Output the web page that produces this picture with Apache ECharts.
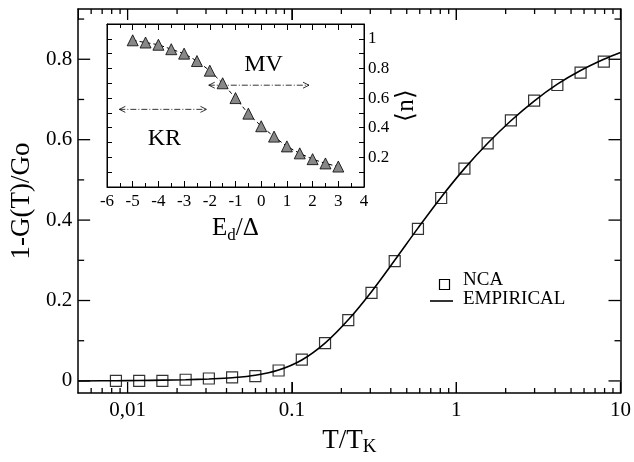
<!DOCTYPE html>
<html>
<head>
<meta charset="utf-8">
<script src="https://cdn.jsdelivr.net/npm/echarts@6/dist/echarts.min.js"></script>
<style>
html,body{margin:0;padding:0;background:#fff;overflow:hidden;}
#chart{width:634px;height:462px;}
</style>
</head>
<body>
<div id="chart"></div>
<script>
// ---------- main panel data ----------
const tValues = [0.00849, 0.01176, 0.01628, 0.02255, 0.03123, 0.04325, 0.0599, 0.0830, 0.1149, 0.1591, 0.2203,
                 0.3051, 0.4224, 0.585, 0.810, 1.122, 1.554, 2.152, 2.980, 4.127, 5.715, 7.914];
const ncaValues = [0.0, 0.0, 0.0, 0.003, 0.006, 0.009, 0.012, 0.026, 0.053, 0.094, 0.151,
                   0.219, 0.298, 0.378, 0.455, 0.528, 0.591, 0.648, 0.697, 0.736, 0.767, 0.794];
const empT = [0.005, 0.00849, 0.01176, 0.01628, 0.02255, 0.03123, 0.04325, 0.0599, 0.0830, 0.1149, 0.1591, 0.2203,
              0.3051, 0.4224, 0.585, 0.810, 1.122, 1.554, 2.152, 2.980, 4.127, 5.715, 7.914, 10];
const empValues = [0.0, 0.0005, 0.001, 0.002, 0.003, 0.005, 0.008, 0.014, 0.027, 0.052, 0.094, 0.152,
                   0.222, 0.300, 0.380, 0.457, 0.528, 0.591, 0.647, 0.696, 0.738, 0.772, 0.800, 0.817];
const xMajorTicks = [0.01, 0.1, 1, 10];
const xTickLabels = ['0,01', '0.1', '1', '10'];
const xMinorTicks = [0.006, 0.007, 0.008, 0.009, 0.02, 0.03, 0.04, 0.05, 0.06, 0.07, 0.08, 0.09,
                     0.2, 0.3, 0.4, 0.5, 0.6, 0.7, 0.8, 0.9, 2, 3, 4, 5, 6, 7, 8, 9];
const yMajorTicks = [0, 0.2, 0.4, 0.6, 0.8];
const yTickLabels = ['0', '0.2', '0.4', '0.6', '0.8'];
const yMinorTicks = [0.1, 0.3, 0.5, 0.7, 0.9];
const X_MIN = 0.005, X_MAX = 10, Y_MIN = -0.03, Y_MAX = 0.925;
const legendNames = ['NCA', 'EMPIRICAL'];

// ---------- inset data ----------
const edValues = [-5, -4.5, -4, -3.5, -3, -2.5, -2, -1.5, -1, -0.5, 0, 0.5, 1, 1.5, 2, 2.5, 3];
const nValues = [0.99, 0.975, 0.96, 0.93, 0.90, 0.85, 0.785, 0.70, 0.60, 0.495, 0.41, 0.34, 0.274, 0.227, 0.188, 0.159, 0.138];
const insetYLabelTicks = [0.2, 0.4, 0.6, 0.8, 1];
const insetYLabels = ['0.2', '0.4', '0.6', '0.8', '1'];
const insetYTicks = [0.1, 0.2, 0.3, 0.4, 0.5, 0.6, 0.7, 0.8, 0.9, 1.0];
const krArrow = [-5.52, -2.13, 0.524];
const mvArrow = [-2.04, 1.86, 0.687];
const regionNames = ['MV', 'KR'];
const regionX = [0.09, -3.77];
const regionY = [0.826, 0.324];

const FONT = "'Liberation Serif', 'Times New Roman', serif";
const BLACK = '#000';
const MAJOR_LEN = 11, MINOR_LEN = 5;

function lookup(vals, labels, v) {
  for (let i = 0; i < vals.length; i++) {
    if (Math.abs(vals[i] - v) < 1e-9 * Math.max(1, Math.abs(v)) + 1e-12) return labels[i];
  }
  return '';
}
function tickLine(x1, y1, x2, y2) {
  return {type: 'line', shape: {x1: x1, y1: y1, x2: x2, y2: y2}, style: {stroke: BLACK, lineWidth: 1.3}};
}

const chart = echarts.init(document.getElementById('chart'));

const mainX = (extra) => Object.assign({
  type: 'log', gridIndex: 0, min: X_MIN, max: X_MAX,
  splitLine: {show: false},
  axisLine: {show: true, onZero: false, lineStyle: {color: BLACK, width: 1.5}},
  axisLabel: {show: false},
  axisTick: {show: true, inside: true, length: MAJOR_LEN, lineStyle: {color: BLACK, width: 1}}
}, extra);

const mainY = (extra) => Object.assign({
  type: 'value', gridIndex: 0, min: Y_MIN, max: Y_MAX,
  splitLine: {show: false},
  axisLine: {show: true, onZero: false, lineStyle: {color: BLACK, width: 1.5}},
  axisLabel: {show: false},
  axisTick: {show: false}
}, extra);

const insetX = (extra) => Object.assign({
  type: 'value', gridIndex: 1, min: -6, max: 4, interval: 1,
  splitLine: {show: false},
  axisLine: {show: true, onZero: false, lineStyle: {color: BLACK, width: 1}},
  axisLabel: {show: false},
  axisTick: {show: true, inside: true, length: 6, lineStyle: {color: BLACK, width: 1}},
  minorTick: {show: true, splitNumber: 2, length: 4, lineStyle: {color: BLACK, width: 1}}
}, extra);

const insetY = (extra) => Object.assign({
  type: 'value', gridIndex: 1, min: 0, max: 1.1,
  splitLine: {show: false},
  axisLine: {show: true, onZero: false, lineStyle: {color: BLACK, width: 1}},
  axisLabel: {show: false},
  axisTick: {show: true, inside: true, length: 5, lineStyle: {color: BLACK, width: 1}, customValues: insetYTicks}
}, extra);

const option = {
  backgroundColor: '#fff',
  animation: false,
  grid: [
    {left: 76, right: 13, top: 9, bottom: 57, show: false},
    {left: 107, right: 270, top: 24, bottom: 275, show: true, backgroundColor: '#fff', borderColor: BLACK, borderWidth: 1}
  ],
  xAxis: [
    mainX({
      position: 'bottom',
      axisLabel: {show: true, showMinLabel: false, fontSize: 21, color: BLACK, fontFamily: FONT, margin: 7,
                  formatter: v => lookup(xMajorTicks, xTickLabels, v)},
      name: '{a|T/T}{s|K}', nameLocation: 'middle', nameGap: 31,
      nameTextStyle: {rich: {a: {fontSize: 27, fontFamily: FONT, color: BLACK},
                             s: {fontSize: 19, fontFamily: FONT, color: BLACK, padding: [14, 0, 0, 0]}}}
    }),
    mainX({position: 'top'}),
    insetX({
      position: 'bottom',
      axisLabel: {show: true, fontSize: 17, color: BLACK, fontFamily: FONT, margin: 6},
      name: '{a|E}{s|d}{a|/Δ}', nameLocation: 'middle', nameGap: 26,
      nameTextStyle: {rich: {a: {fontSize: 25, fontFamily: FONT, color: BLACK},
                             s: {fontSize: 17, fontFamily: FONT, color: BLACK, padding: [14, 0, 0, 0]}}}
    }),
    insetX({position: 'top'})
  ],
  yAxis: [
    mainY({
      position: 'left',
      axisLabel: {show: true, customValues: yMajorTicks, fontSize: 21, color: BLACK, fontFamily: FONT, margin: 6,
                  formatter: v => lookup(yMajorTicks, yTickLabels, v)},
      name: '1-G(T)/Go', nameLocation: 'middle', nameGap: 42, nameRotate: 90,
      nameTextStyle: {fontSize: 27, fontFamily: FONT, color: BLACK}
    }),
    mainY({position: 'right'}),
    insetY({
      position: 'right',
      axisLabel: {show: true, customValues: insetYLabelTicks, fontSize: 17, color: BLACK, fontFamily: FONT, margin: 4,
                  formatter: v => lookup(insetYLabelTicks, insetYLabels, v)},
      name: '⟨n⟩', nameLocation: 'middle', nameGap: 30, nameRotate: 90,
      nameTextStyle: {fontSize: 25, fontFamily: FONT, color: BLACK}
    }),
    insetY({position: 'left'})
  ],
  graphic: [
    {type: 'rect', left: 437, top: 277, shape: {width: 10, height: 10},
     style: {fill: 'none', stroke: BLACK, lineWidth: 1.2}},
    {type: 'text', left: 463, top: 271, style: {text: legendNames[0], fontSize: 19, fontFamily: FONT, fill: BLACK}},
    {type: 'line', shape: {x1: 430, y1: 301, x2: 453, y2: 301}, style: {stroke: BLACK, lineWidth: 1.6}},
    {type: 'text', left: 463, top: 290, style: {text: legendNames[1], fontSize: 19, fontFamily: FONT, fill: BLACK}}
  ],
  series: [
    {
      name: 'xticks', type: 'custom', z: 6,
      data: xMajorTicks.map(v => [v, 0, MAJOR_LEN]).concat(xMinorTicks.map(v => [v, 0, MINOR_LEN])),
      renderItem: function (params, api) {
        const cs = params.coordSys;
        const x = api.coord([api.value(0), 0])[0];
        const L = api.value(2);
        const yb = cs.y + cs.height, yt = cs.y;
        return {type: 'group', children: [tickLine(x, yb, x, yb - L), tickLine(x, yt, x, yt + L)]};
      }
    },
    {
      name: 'yticks', type: 'custom', z: 6,
      data: yMajorTicks.map(v => [0.1, v, MAJOR_LEN + 1]).concat(yMinorTicks.map(v => [0.1, v, MINOR_LEN + 1])),
      renderItem: function (params, api) {
        const cs = params.coordSys;
        const y = api.coord([api.value(0), api.value(1)])[1];
        const L = api.value(2);
        return {type: 'group', children: [tickLine(cs.x, y, cs.x + L, y), tickLine(cs.x + cs.width, y, cs.x + cs.width - L, y)]};
      }
    },
    {
      name: 'EMPIRICAL', type: 'line', xAxisIndex: 0, yAxisIndex: 0,
      data: empT.map((t, i) => [t, empValues[i]]),
      smooth: 0.35, showSymbol: false, symbol: 'none',
      lineStyle: {color: BLACK, width: 1.6}, itemStyle: {color: BLACK}, z: 3
    },
    {
      name: 'NCA', type: 'scatter', xAxisIndex: 0, yAxisIndex: 0,
      data: tValues.map((t, i) => [t, ncaValues[i]]),
      symbol: 'rect', symbolSize: 11,
      itemStyle: {color: 'rgba(255,255,255,0)', borderColor: BLACK, borderWidth: 1.2}, z: 4
    },
    {
      name: 'n', type: 'line', xAxisIndex: 2, yAxisIndex: 2,
      data: edValues.map((e, i) => [e, nValues[i]]),
      symbol: 'triangle', symbolSize: 11, showSymbol: true,
      lineStyle: {color: BLACK, width: 1, type: [4, 3]},
      itemStyle: {color: '#888888', borderColor: BLACK, borderWidth: 0.8}, z: 10
    },
    {
      name: 'arrows', type: 'custom', xAxisIndex: 2, yAxisIndex: 2, z: 10,
      data: [krArrow, mvArrow],
      encode: {x: [0, 1], y: 2},
      renderItem: function (params, api) {
        const p1 = api.coord([api.value(0), api.value(2)]);
        const p2 = api.coord([api.value(1), api.value(2)]);
        const h = 6, w = 3;
        const st = {stroke: BLACK, lineWidth: 0.8, fill: null};
        return {
          type: 'group', children: [
            {type: 'line', shape: {x1: p1[0], y1: p1[1], x2: p2[0], y2: p2[1]},
             style: {stroke: BLACK, lineWidth: 0.8, lineDash: [6, 2, 1, 2]}},
            {type: 'polyline', shape: {points: [[p1[0] + h, p1[1] - w], [p1[0], p1[1]], [p1[0] + h, p1[1] + w]]}, style: st},
            {type: 'polyline', shape: {points: [[p2[0] - h, p2[1] - w], [p2[0], p2[1]], [p2[0] - h, p2[1] + w]]}, style: st}
          ]
        };
      }
    },
    {
      name: 'regions', type: 'custom', xAxisIndex: 2, yAxisIndex: 2, z: 10,
      data: regionNames.map((n, i) => [regionX[i], regionY[i], n]),
      renderItem: function (params, api) {
        const p = api.coord([api.value(0), api.value(1)]);
        return {
          type: 'text', x: p[0], y: p[1],
          style: {text: regionNames[params.dataIndex], fontSize: 24, fontFamily: FONT, fill: BLACK,
                  align: 'center', verticalAlign: 'middle'}
        };
      }
    }
  ]
};
chart.setOption(option);
</script>
</body>
</html>
